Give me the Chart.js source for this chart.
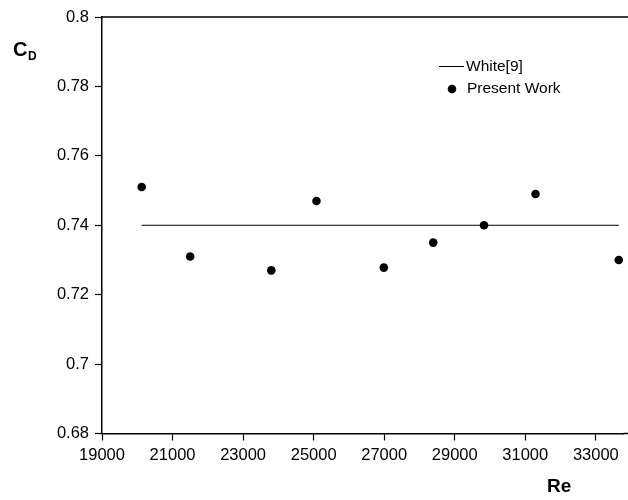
<!DOCTYPE html>
<html>
<head>
<meta charset="utf-8">
<script src="https://cdn.jsdelivr.net/npm/chart.js@4/dist/chart.umd.min.js"></script>
<style>
  html, body { margin: 0; padding: 0; background: #fff; }
  #wrap { width: 628px; height: 500px; position: relative; }
</style>
</head>
<body>
<div id="wrap"><canvas id="cdChart"></canvas></div>
<script>
// Present Work measurements: Reynolds number vs drag coefficient
const reValues = [20125, 21500, 23800, 25080, 26990, 28390, 29830, 31290, 33650];
const cdValues = [0.751, 0.731, 0.727, 0.747, 0.7278, 0.735, 0.740, 0.749, 0.730];

// White[9] reference value (constant)
const whiteRe = [20125, 33650];
const whiteCd = [0.74, 0.74];

const xTicks = [19000, 21000, 23000, 25000, 27000, 29000, 31000, 33000];
const yTicks = [0.68, 0.70, 0.72, 0.74, 0.76, 0.78, 0.80];

const FONT = 'Arial, "Liberation Sans", sans-serif';

// draws the top frame line, axis titles and the legend
const decorPlugin = {
    id: 'decor',
    afterDraw(chart) {
        const { ctx, chartArea } = chart;
        ctx.save();
        ctx.strokeStyle = '#000';
        ctx.lineWidth = 1.5;
        ctx.beginPath();
        ctx.moveTo(chartArea.left, chartArea.top);
        ctx.lineTo(chart.width, chartArea.top);
        ctx.moveTo(chartArea.right, chartArea.bottom);
        ctx.lineTo(chart.width, chartArea.bottom);
        ctx.stroke();

        ctx.fillStyle = '#000';
        ctx.textBaseline = 'alphabetic';
        ctx.font = 'bold 20px ' + FONT;
        ctx.fillText('C', 13, 56);
        ctx.font = 'bold 12px ' + FONT;
        ctx.fillText('D', 28, 60);
        ctx.font = 'bold 19px ' + FONT;
        ctx.fillText('Re', 547, 492);

        // legend
        ctx.font = '15.5px ' + FONT;
        ctx.textBaseline = 'middle';
        ctx.lineWidth = 1;
        ctx.beginPath();
        ctx.moveTo(439, 66.5);
        ctx.lineTo(464, 66.5);
        ctx.stroke();
        ctx.fillText('White[9]', 466, 67);
        ctx.beginPath();
        ctx.arc(452, 89, 4.3, 0, Math.PI * 2);
        ctx.fill();
        ctx.fillText('Present Work', 467, 89);
        ctx.restore();
    }
};

new Chart(document.getElementById('cdChart'), {
    type: 'scatter',
    data: {
        datasets: [
            {
                label: 'White[9]',
                data: whiteRe.map((x, i) => ({ x, y: whiteCd[i] })),
                showLine: true,
                borderColor: '#000',
                borderWidth: 1,
                pointRadius: 0
            },
            {
                label: 'Present Work',
                data: reValues.map((x, i) => ({ x, y: cdValues[i] })),
                backgroundColor: '#000',
                borderColor: '#000',
                pointRadius: 4.3,
                pointBorderWidth: 0
            }
        ]
    },
    options: {
        responsive: true,
        maintainAspectRatio: false,
        animation: false,
        layout: { padding: { top: 17, right: 0, left: 0, bottom: 0 } },
        plugins: {
            legend: { display: false },
            tooltip: { enabled: false }
        },
        scales: {
            x: {
                type: 'linear',
                min: 19000,
                max: 33790,
                afterBuildTicks: axis => { axis.ticks = xTicks.map(v => ({ value: v })); },
                afterFit: axis => {
                    axis.height = 66.5;
                    axis.paddingRight = 0;
                    axis.paddingLeft = 0;
                },
                border: { color: '#000', width: 1.5 },
                grid: { drawOnChartArea: false, color: '#000', tickLength: 7, tickWidth: 1.2 },
                ticks: {
                    color: '#000',
                    font: { family: FONT, size: 16.5 },
                    padding: 5,
                    maxRotation: 0,
                    callback: v => String(v)
                }
            },
            y: {
                min: 0.68,
                max: 0.8,
                afterBuildTicks: axis => { axis.ticks = yTicks.map(v => ({ value: v })); },
                afterFit: axis => { axis.width = 102; },
                border: { color: '#000', width: 1.5 },
                grid: { drawOnChartArea: false, color: '#000', tickLength: 7, tickWidth: 1.2 },
                ticks: {
                    color: '#000',
                    font: { family: FONT, size: 16.5 },
                    padding: 6,
                    callback: v => String(parseFloat(v.toFixed(2)))
                }
            }
        }
    },
    plugins: [decorPlugin]
});
</script>
</body>
</html>
